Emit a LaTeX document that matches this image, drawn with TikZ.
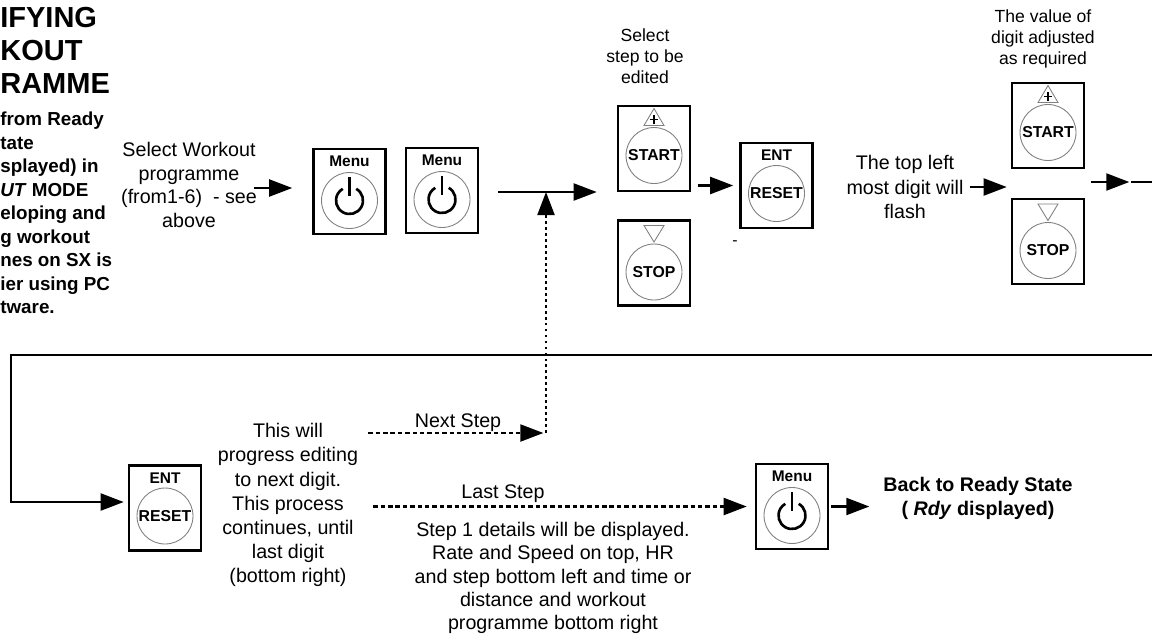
\documentclass[tikz,border=0pt]{standalone}
\usepackage{fontspec}
\setmainfont{Liberation Sans}
\usetikzlibrary{arrows.meta}

\tikzset{
  btn/.style={draw, line width=1.5pt, minimum width=1.44cm, minimum height=1.7cm, inner sep=0pt},
  knob/.style={circle, draw=gray, line width=0.5pt, minimum size=1.12cm, inner sep=0pt, font=\fontsize{9}{10}\selectfont\bfseries},
  keylbl/.style={font=\fontsize{8.8}{10}\selectfont\bfseries, inner sep=0pt},
  tri/.style={draw=gray, line width=0.5pt},
  pwr/.style={line width=1.5pt},
  arr/.style={-{Triangle[length=0.46cm,width=0.34cm]}, line width=1.2pt},
  dsh/.style={arr, dash pattern=on 2.5pt off 1.7pt},
  dot/.style={arr, dash pattern=on 1.6pt off 1.8pt},
  txt/.style={align=center, font=\fontsize{11.2}{13.3}\selectfont, inner sep=0pt},
  note/.style={align=center, font=\fontsize{10}{12}\selectfont, inner sep=0pt}
}

\newcommand{\menukey}[2]{%
  \node[btn] (#1) at (#2) {};
  \node[knob] (#1k) at ([yshift=-0.18cm]#1.center) {};
  \node[keylbl] at ([yshift=0.6cm]#1.center) {Menu};
  \draw[pwr] ([shift={(60:0.27cm)}]#1k.center) arc[start angle=60, end angle=-240, radius=0.27cm];
  \draw[pwr] ([yshift=0.1cm]#1k.center) -- ([yshift=0.47cm]#1k.center);
}
\newcommand{\entkey}[2]{%
  \node[btn] (#1) at (#2) {};
  \node[knob] (#1k) at ([yshift=-0.16cm]#1.center) {RESET};
  \node[keylbl] at ([yshift=0.6cm]#1.center) {ENT};
}
\newcommand{\startkey}[2]{%
  \node[btn] (#1) at (#2) {};
  \node[knob] (#1k) at ([yshift=-0.14cm]#1.center) {START};
  \draw[tri] ([shift={(-0.2cm,0.46cm)}]#1.center) -- ([shift={(0.2cm,0.46cm)}]#1.center) -- ([shift={(0cm,0.8cm)}]#1.center) -- cycle;
  \draw[line width=1.1pt] ([shift={(-0.08cm,0.58cm)}]#1.center) -- ([shift={(0.08cm,0.58cm)}]#1.center);
  \draw[line width=1.1pt] ([shift={(0cm,0.49cm)}]#1.center) -- ([shift={(0cm,0.67cm)}]#1.center);
}
\newcommand{\stopkey}[2]{%
  \node[btn] (#1) at (#2) {};
  \node[knob] (#1k) at ([yshift=-0.18cm]#1.center) {STOP};
  \draw[tri] ([shift={(-0.2cm,0.75cm)}]#1.center) -- ([shift={(0.2cm,0.75cm)}]#1.center) -- ([shift={(0cm,0.42cm)}]#1.center) -- cycle;
}

\begin{document}
\begin{tikzpicture}[x=0.02cm, y=0.02cm]
\useasboundingbox (0,0) rectangle (1152,-637);
\clip (0,0) rectangle (1152,-637);

\node[anchor=west, align=left, inner sep=0pt, font=\fontsize{16.5}{18.8}\selectfont\bfseries] (title) at (0,-50) {IFYING\\KOUT\\RAMME};
\node[anchor=west, align=left, inner sep=0pt, font=\fontsize{10.7}{13.4}\selectfont\bfseries] (info) at (0,-213) {from Ready\\tate\\splayed) in\\\textit{UT} MODE\\eloping and\\g workout\\nes on SX is\\ier using PC\\tware.};

\node[txt] (sel) at (189,-185) {Select Workout\\programme\\(from1-6)\ \ - see\\above};
\menukey{menuA}{349.5,-191.5}
\menukey{menuB}{442,-190.5}

\node[note] (stepsel) at (645,-56) {Select\\step to be\\edited};
\startkey{startA}{654,-148.5}
\stopkey{stopA}{654,-263}
\entkey{entA}{776.5,-185.5}
\node[inner sep=0pt, font=\small] (dashmark) at (735,-243) {-};

\node[txt, font=\fontsize{11.2}{14}\selectfont] (flash) at (905,-187) {The top left\\most digit will\\flash};
\node[note] (valadj) at (1043,-39) {The value of\\digit adjusted\\as required};
\startkey{startB}{1048,-125.5}
\stopkey{stopB}{1048,-241.5}

\entkey{entB}{165,-508}
\node[txt, font=\fontsize{11.2}{13.7}\selectfont] (progress) at (288,-505) {This will\\progress editing\\to next digit.\\This process\\continues, until\\last digit\\(bottom right)};
\node[txt] (nextlbl) at (458,-423) {Next Step};
\node[txt] (lastlbl) at (503,-494) {Last Step};
\menukey{menuC}{792,-506.5}
\node[txt] (details) at (553,-578) {Step 1 details will be displayed.\\Rate and Speed on top, HR\\and step bottom left and time or\\distance and workout\\programme bottom right};
\node[txt, font=\fontsize{11.2}{13.7}\selectfont\bfseries] (back) at (978,-498) {Back to Ready State\\( \textit{Rdy} displayed)};

\coordinate (j1) at (546,-192);
\coordinate (j2) at (546,-433);
\coordinate (r1) at (1180,-182);
\coordinate (r2) at (1180,-355);
\coordinate (l1) at (11,-355);
\coordinate (l2) at (11,-502);

\draw[arr] ([xshift=-2pt]sel.east |- 0,-188) -- ([xshift=-0.4cm]menuA.west |- 0,-188);
\draw[arr] ([xshift=0.38cm]menuB.east |- j1) -- ([xshift=-0.4cm]startA.west |- j1);
\draw[dot] (j2) -- (j1);
\draw[dsh] ([xshift=0.2cm]progress.east |- j2) -- ([xshift=-1.5pt]j2);
\draw[arr] ([xshift=0.14cm]startA.east |- entA.west) -- ([xshift=-0.12cm]entA.west);
\draw[arr] ([xshift=0.12cm]flash.east |- 0,-187) -- ([xshift=-0.08cm]startB.west |- 0,-187);
\draw[arr] ([xshift=0.12cm]startB.east |- r1) -- ([xshift=0.88cm]startB.east |- r1);
\draw[arr] ([xshift=0.92cm]startB.east |- r1) -- (r1) -- (r2) -- (l1) -- (l2) -- ([xshift=-0.08cm]entB.west |- l2);
\draw[dsh] ([xshift=0.3cm]progress.east |- menuC.west) -- ([xshift=-0.16cm]menuC.west);
\draw[arr] ([xshift=0.04cm]menuC.east) -- ([xshift=0.8cm]menuC.east);
\end{tikzpicture}
\end{document}
